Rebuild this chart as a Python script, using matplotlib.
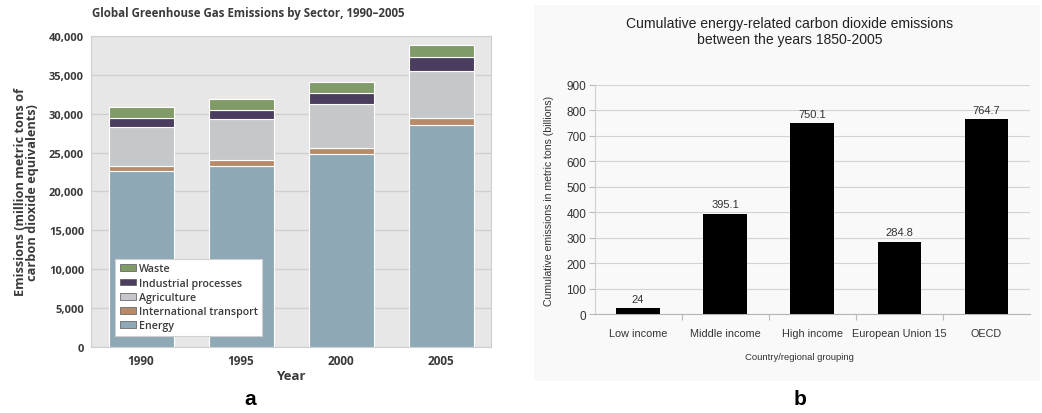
import matplotlib
matplotlib.use('Agg')
import matplotlib.pyplot as plt
from matplotlib.patches import Rectangle
import numpy as np

# panel a data (million metric tons CO2 eq)
years = ['1990', '1995', '2000', '2005']
sectors = ['Energy', 'International transport', 'Agriculture', 'Industrial processes', 'Waste']
energy = [22600, 23300, 24850, 28500]
transport = [680, 680, 780, 950]
agriculture = [5050, 5300, 5650, 6000]
industrial = [1150, 1200, 1350, 1870]
waste = [1350, 1420, 1500, 1500]
sector_colors = ['#8fa8b5', '#b78b69', '#c5c7cb', '#4b3d5e', '#809b68']

# panel b data (billion metric tons)
groups = ['Low income', 'Middle income', 'High income', 'European Union 15', 'OECD']
cumulative = [24, 395.1, 750.1, 284.8, 764.7]
cum_labels = ['24', '395.1', '750.1', '284.8', '764.7']

fig = plt.figure(figsize=(10.42, 4.14), dpi=100)
fig.patch.set_facecolor('white')
fig.patches.append(Rectangle((534 / 1042, 1 - 382 / 414), 506 / 1042, 376 / 414,
                             transform=fig.transFigure, facecolor='#f9f9f9',
                             edgecolor='none', zorder=-5))

# ---- panel a ----
fa = 'Open Sans'
dark = '#3a3a3a'
ax1 = fig.add_axes([91 / 1042, 1 - 347.7 / 414, 400 / 1042, 310.7 / 414])
ax1.set_facecolor('#e7e7e7')
pos = np.arange(len(years))
series = [energy, transport, agriculture, industrial, waste]
bottom = np.zeros(len(years))
bars = []
for vals, name, col in zip(series, sectors, sector_colors):
    b = ax1.bar(pos, vals, 0.65, bottom=bottom, color=col, edgecolor='white',
                linewidth=0.8, label=name, zorder=3)
    bars.append(b)
    bottom += np.array(vals)
ax1.set_xlim(-0.5, 3.5)
ax1.set_ylim(0, 40000)
ax1.set_yticks(np.arange(0, 40001, 5000))
ax1.set_yticklabels([f'{v:,}' for v in range(0, 40001, 5000)],
                    fontfamily=fa, fontweight='bold', fontsize=8, color=dark)
ax1.set_xticks(pos)
ax1.set_xticklabels(years, fontfamily=fa, fontweight='bold', fontsize=8.5, color=dark)
ax1.tick_params(length=0, pad=5)
ax1.yaxis.grid(True, color='#d0d0d0', linewidth=1, zorder=1)
ax1.set_axisbelow(True)
for s in ax1.spines.values():
    s.set_color('#cfcfcf')
ax1.set_xlabel('Year', fontfamily=fa, fontweight='bold', fontsize=9.5, color=dark, labelpad=2)
ax1.set_ylabel('Emissions (million metric tons of\ncarbon dioxide equivalents)',
               fontfamily=fa, fontweight='bold', fontsize=9.2, color=dark,
               linespacing=0.95, labelpad=7)
fig.text(248 / 1042, 1 - 13 / 414,
         'Global Greenhouse Gas Emissions by Sector, 1990\u20132005',
         ha='center', va='center', fontfamily=fa, fontweight='bold', fontsize=8.3, color=dark)
leg = ax1.legend(handles=bars[::-1], loc='lower left', bbox_to_anchor=(0.06, 0.034),
                 borderaxespad=0, fancybox=False, framealpha=1, edgecolor='#d0d0d0',
                 prop={'family': fa, 'weight': 'semibold', 'size': 7.7},
                 handlelength=1.5, handleheight=0.6, handletextpad=0.25,
                 labelspacing=0.3, borderpad=0.45)
leg.get_frame().set_linewidth(0.8)
for t in leg.get_texts():
    t.set_color(dark)
for h in leg.legend_handles:
    h.set_edgecolor('#555555')
    h.set_linewidth(0.5)

# ---- panel b ----
fb = 'Liberation Sans'
gray = '#333333'
ax2 = fig.add_axes([594.5 / 1042, 1 - 315.3 / 414, 435.5 / 1042, 229.3 / 414])
ax2.set_facecolor('#f9f9f9')
xb = np.arange(len(groups))
ax2.bar(xb, cumulative, 0.5, color='black', zorder=3)
for x, v, lab in zip(xb, cumulative, cum_labels):
    ax2.text(x, v + 18, lab, ha='center', va='bottom', fontfamily=fb, fontsize=8, color=gray)
ax2.set_xlim(-0.5, 4.5)
ax2.set_ylim(0, 900)
ax2.set_yticks(np.arange(0, 901, 100))
ax2.set_yticklabels([str(v) for v in range(0, 901, 100)], fontfamily=fb, fontsize=8.5, color=gray)
ax2.set_xticks(xb)
ax2.set_xticklabels(groups, fontfamily=fb, fontsize=7.8, color=gray)
ax2.set_xticks(np.arange(0.5, 4.5, 1), minor=True)
ax2.tick_params(axis='x', which='major', length=0, pad=10)
ax2.tick_params(axis='x', which='minor', length=4, color='#bbbbbb', width=0.8)
ax2.tick_params(axis='y', length=4, color='#bbbbbb', width=0.8, pad=2)
ax2.yaxis.grid(True, color='#d3d3d3', linewidth=0.8, zorder=1)
ax2.set_axisbelow(True)
for k in ['top', 'right']:
    ax2.spines[k].set_visible(False)
ax2.spines['left'].set_color('#d0d0d0')
ax2.spines['bottom'].set_color('#b5b5b5')
ax2.set_ylabel('Cumulative emissions in metric tons (billions)', fontfamily=fb,
               fontsize=7.6, color=gray, labelpad=9)
fig.text(799 / 1042, 1 - 357 / 414, 'Country/regional grouping',
         ha='center', va='center', fontfamily=fb, fontsize=6.8, color=gray)
fig.text(790 / 1042, 1 - 32 / 414,
         'Cumulative energy-related carbon dioxide emissions\nbetween the years 1850-2005',
         ha='center', va='center', fontfamily=fb, fontsize=10.1, color='#222222', linespacing=1.2)

# panel letters
fig.text(250 / 1042, 1 - 400 / 414, 'a', ha='center', va='center', fontfamily='Liberation Sans',
         fontweight='bold', fontsize=15)
fig.text(800 / 1042, 1 - 400 / 414, 'b', ha='center', va='center', fontfamily='Liberation Sans',
         fontweight='bold', fontsize=15)

fig.savefig('out.png', dpi=100)
